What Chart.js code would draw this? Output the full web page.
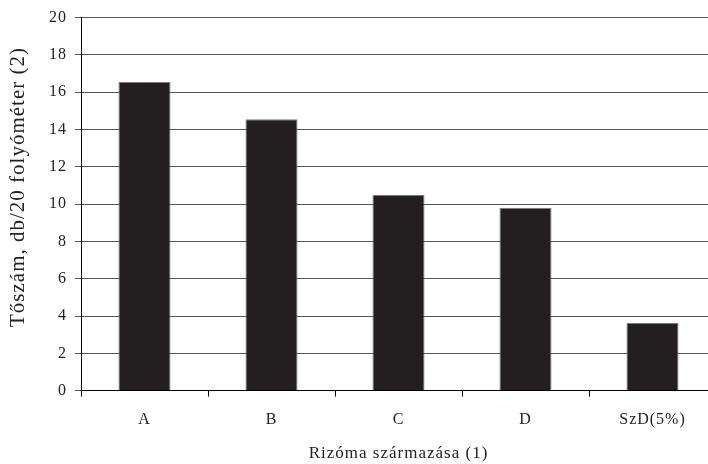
<!DOCTYPE html>
<html>
<head>
<meta charset="utf-8">
<script src="https://cdn.jsdelivr.net/npm/chart.js@4"></script>
<style>
  html, body { margin: 0; padding: 0; background: #fff; overflow: hidden; }
  #wrap { width: 716px; height: 464px; }
</style>
</head>
<body>
<div id="wrap"><canvas id="chart" width="716" height="464"></canvas></div>
<script>
// Rizóma származása -> tőszám
const categories = ['A', 'B', 'C', 'D', 'SzD(5%)'];
const values = [16.55, 14.55, 10.5, 9.8, 3.62];
const yTicks = [0, 2, 4, 6, 8, 10, 12, 14, 16, 18, 20];
const yTitle = 'Tőszám, db/20 folyóméter (2)';

const serif = '"Liberation Serif", "DejaVu Serif", serif';

// the original typeface is set a little wider, so add some tracking
const tracking = {
    id: 'tracking',
    beforeUpdate(chart) { chart.ctx.letterSpacing = '1px'; },
    beforeDraw(chart) { chart.ctx.letterSpacing = '1px'; }
};

// y title sits a bit above the middle of the axis in the original
const sideTitle = {
    id: 'sideTitle',
    afterDraw(chart) {
        const c = chart.ctx;
        c.save();
        c.letterSpacing = '1px';
        c.font = '21px ' + serif;
        c.fillStyle = '#222';
        c.textAlign = 'center';
        c.textBaseline = 'middle';
        c.translate(18, 187);
        c.rotate(-Math.PI / 2);
        c.fillText(yTitle, 0, 0);
        c.restore();
    }
};

const ctx = document.getElementById('chart').getContext('2d');
new Chart(ctx, {
    type: 'bar',
    data: {
        labels: categories,
        datasets: [{
            data: values,
            backgroundColor: '#231f20',
            borderColor: '#7a7a7a',
            borderWidth: 1,
            barPercentage: 0.41,
            categoryPercentage: 1
        }]
    },
    plugins: [tracking, sideTitle],
    options: {
        responsive: false,
        animation: false,
        layout: { padding: { top: 8, right: 0, left: 41, bottom: 0 } },
        plugins: {
            legend: { display: false },
            tooltip: { enabled: false }
        },
        scales: {
            x: {
                grid: { display: true, drawOnChartArea: false, tickLength: 6, color: '#000', offset: true },
                border: { color: '#000', width: 1 },
                ticks: { color: '#222', padding: 13.4, font: { family: serif, size: 16 } },
                title: {
                    display: true,
                    text: 'Rizóma származása (1)',
                    color: '#222',
                    padding: { top: 1, bottom: 0 },
                    font: { family: serif, size: 17 }
                }
            },
            y: {
                min: 0,
                max: 20,
                afterBuildTicks: (axis) => { axis.ticks = yTicks.map(v => ({ value: v })); },
                grid: { color: '#555', lineWidth: 1, tickLength: 6 },
                border: { color: '#000', width: 1 },
                ticks: { color: '#222', padding: 8, font: { family: serif, size: 16 } }
            }
        }
    }
});
</script>
</body>
</html>
